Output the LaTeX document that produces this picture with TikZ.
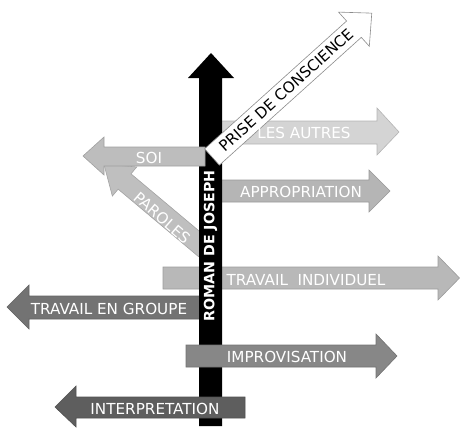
\documentclass[tikz,border=0pt]{standalone}
\usepackage{fontspec}
\setmainfont{DejaVu Sans}

\tikzset{
  flat/.style={fill=black!#1, draw=black!#1!white!85!black, line width=0.6pt},
  lbl/.style={text=white, inner sep=0pt, font=\fontsize{15.2}{17}\selectfont},
}

\begin{document}
\begin{tikzpicture}[x=1pt,y=-1pt]
  \useasboundingbox (0,0) rectangle (460,428);

  % arrows behind the post
  \filldraw[flat=17] (205,121) -- (377,121) -- (377,108) -- (399,132)
    -- (377,155) -- (377,144) -- (205,144) -- cycle;
  \filldraw[flat=29] (205,180) -- (369,180) -- (369,170) -- (390,191)
    -- (369,212) -- (369,202) -- (205,202) -- cycle;
  \filldraw[flat=28] (163,267) -- (438,267) -- (438,256) -- (459.5,278)
    -- (438,300) -- (438,289) -- (163,289) -- cycle;
  \filldraw[flat=55] (205,296) -- (29,296) -- (29,285) -- (7,307)
    -- (29,329) -- (29,319) -- (205,319) -- cycle;
  \begin{scope}[shift={(205,249)},rotate=140]
    \filldraw[flat=25] (0,-10) -- (105,-10) -- (105,-19) -- (132,0)
      -- (105,19) -- (105,10) -- (0,10) -- cycle;
  \end{scope}

  % the post
  \fill[black] (199,426) -- (199,78) -- (188,78) -- (211,53) -- (234,78)
    -- (222,78) -- (222,426) -- cycle;
  \node (roman) at (210.5,246) [rotate=90, text=white, inner sep=0pt,
    font=\fontsize{14.2}{16}\bfseries] {ROMAN DE JOSEPH};

  % arrows in front of the post
  \filldraw[flat=26] (205,147) -- (104,147) -- (104,137) -- (83,156)
    -- (104,175) -- (104,166) -- (205,166) -- cycle;
  \filldraw[flat=47] (186,345) -- (376,345) -- (376,334) -- (397,356)
    -- (376,378) -- (376,367) -- (186,367) -- cycle;
  \filldraw[flat=63] (245,397) -- (76,397) -- (76,386) -- (55,407)
    -- (76,427) -- (76,418) -- (245,418) -- cycle;
  \begin{scope}[shift={(212,157)},rotate=42]
    \filldraw[fill=white, draw=black!45, line width=0.6pt] (0,-11) -- (191,-11)
      -- (191,-23) -- (215,0) -- (191,23) -- (191,11) -- (0,11) -- cycle;
  \end{scope}

  % labels
  \node (autres)  at (304,133) [lbl] {LES AUTRES};
  \node (approp)  at (301,192) [lbl] {APPROPRIATION};
  \node (soi)     at (149,158) [lbl] {SOI};
  \node (paroles) at (162,218) [lbl, rotate=-41] {PAROLES};
  \node (indiv)   at (306,280) [lbl] {TRAVAIL\ \ INDIVIDUEL};
  \node (groupe)  at (109,309) [lbl] {TRAVAIL EN GROUPE};
  \node (improv)  at (287,357) [lbl] {IMPROVISATION};
  \node (interp)  at (155,409) [lbl] {INTERPRETATION};
  \node (prise)   at (286,90) [lbl, text=black, rotate=42] {PRISE DE CONSCIENCE};
\end{tikzpicture}
\end{document}
